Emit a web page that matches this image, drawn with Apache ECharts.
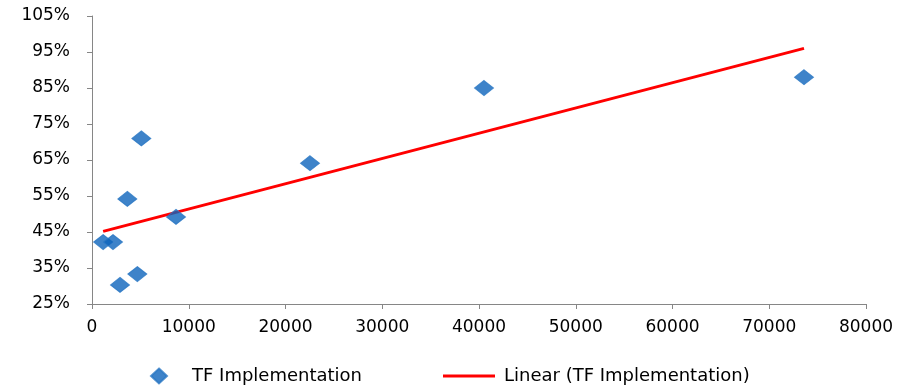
<!DOCTYPE html>
<html>
<head>
<meta charset="utf-8">
<script src="https://cdn.jsdelivr.net/npm/echarts@6/dist/echarts.min.js"></script>
<style>
  html, body { margin: 0; padding: 0; background: #fff; }
  #chart { width: 905px; height: 390px; }
</style>
</head>
<body>
<div id="chart"></div>
<script>
// data
const xValues = [1150, 2170, 2894, 4685, 3650, 5100, 8682, 22532, 40517, 73592]
const yValues = [42.2, 42.2, 30.3, 33.3, 54.2, 71.0, 49.2, 64.1, 85.0, 88.0]
const seriesName = 'TF Implementation'
const trendName = 'Linear (TF Implementation)'

// least squares fit, like the excel trendline
const n = xValues.length
const mx = xValues.reduce((a, b) => a + b, 0) / n
const my = yValues.reduce((a, b) => a + b, 0) / n
let sxy = 0, sxx = 0
for (let i = 0; i < n; i++) {
  sxy += (xValues[i] - mx) * (yValues[i] - my)
  sxx += (xValues[i] - mx) * (xValues[i] - mx)
}
const slope = sxy / sxx
const intercept = my - slope * mx
const xMin = Math.min(...xValues)
const xMax = Math.max(...xValues)
const trend = [[xMin, intercept + slope * xMin], [xMax, intercept + slope * xMax]]

const font = '"DejaVu Sans", sans-serif'
const axisGray = '#868686'

const myChart = echarts.init(document.getElementById('chart'))
myChart.setOption({
  animation: false,
  grid: { left: 92, right: 39, top: 16, bottom: 86 },
  xAxis: {
    type: 'value',
    min: 0, max: 80000, interval: 10000,
    axisLine: { lineStyle: { color: axisGray, width: 1 } },
    axisTick: { show: true, length: 5, lineStyle: { color: axisGray } },
    splitLine: { show: false },
    axisLabel: { color: '#000', fontSize: 17, fontFamily: font, margin: 15, formatter: v => String(v) }
  },
  yAxis: {
    type: 'value',
    min: 25, max: 105, interval: 10,
    axisLine: { show: true, lineStyle: { color: axisGray, width: 1 } },
    axisTick: { show: true, length: 5, lineStyle: { color: axisGray } },
    splitLine: { show: false },
    axisLabel: { color: '#000', fontSize: 17, fontFamily: font, margin: 22, formatter: '{value}%' }
  },
  legend: [
    {
      data: [seriesName],
      left: 145, top: 362,
      icon: 'diamond', itemWidth: 16, itemHeight: 15,
      textStyle: { fontSize: 18, fontFamily: font, color: '#000', padding: [0, 0, 0, 20] }
    },
    {
      data: [trendName],
      left: 438, top: 362,
      icon: 'rect', itemWidth: 52, itemHeight: 3,
      textStyle: { fontSize: 18, fontFamily: font, color: '#000', padding: [0, 0, 0, 4] }
    }
  ],
  series: [
    {
      name: seriesName,
      type: 'scatter',
      symbol: 'diamond',
      symbolSize: [19, 15],
      data: xValues.map((x, i) => [x, yValues[i]]),
      itemStyle: {
        color: '#0e64bb',
        borderColor: '#2a78c4', borderWidth: 1
      },
      z: 3
    },
    {
      name: trendName,
      type: 'line',
      data: trend,
      showSymbol: false,
      symbol: 'none',
      lineStyle: { color: '#ff0000', width: 3 },
      itemStyle: { color: '#ff0000' },
      z: 2
    }
  ]
})
</script>
</body>
</html>
